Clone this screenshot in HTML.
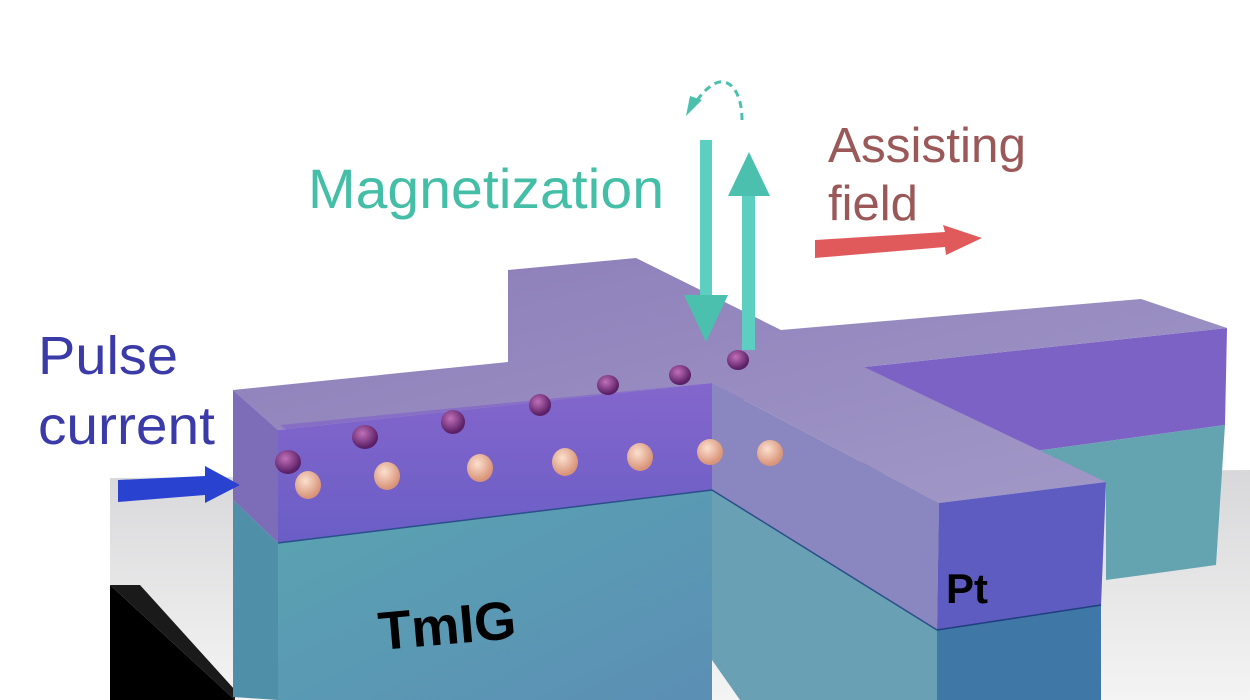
<!DOCTYPE html>
<html><head><meta charset="utf-8"><style>
html,body{margin:0;padding:0;background:#fff;}
svg{display:block;}
text{font-family:"Liberation Sans",sans-serif;}
</style></head><body>
<svg width="1250" height="700" viewBox="0 0 1250 700" xmlns="http://www.w3.org/2000/svg">
<defs>
<linearGradient id="floor" x1="0" y1="0" x2="0" y2="1"><stop offset="0" stop-color="#d8d8da"/><stop offset="1" stop-color="#f4f4f4"/></linearGradient>
<linearGradient id="teal" x1="0" y1="0" x2="1" y2="1"><stop offset="0" stop-color="#5aa4b2"/><stop offset="1" stop-color="#5b8fb4"/></linearGradient>
<linearGradient id="ptf" x1="0" y1="0" x2="0" y2="1"><stop offset="0" stop-color="#8466cc"/><stop offset="1" stop-color="#6a5ec6"/></linearGradient>
<linearGradient id="top" x1="0" y1="0" x2="1" y2="1"><stop offset="0" stop-color="#8c7cb8"/><stop offset="1" stop-color="#a29ac8"/></linearGradient>
<radialGradient id="peach" cx="0.4" cy="0.35" r="0.6"><stop offset="0" stop-color="#fbe0cf"/><stop offset="1" stop-color="#d9957a"/></radialGradient>
<radialGradient id="plum" cx="0.4" cy="0.35" r="0.6"><stop offset="0" stop-color="#c070b8"/><stop offset="1" stop-color="#5a1f66"/></radialGradient>
</defs>
<rect width="1250" height="700" fill="#fff"/>
<polygon points="110,478 1250,470 1250,700 235,700 110,585" fill="url(#floor)"/>
<polygon points="110,585 235,700 110,700" fill="#000"/>
<polygon points="110,585 140,585 235,690 235,700" fill="#1a1a1a"/>
<polygon points="864,367 1227,328 1225,425 1043,450 861,472" fill="#7d62c6"/>
<polygon points="861,472 1043,450 1225,425 1216,565 1106,580 1106,482" fill="#64a3b0"/>
<polygon points="508,270 651,347 651,385 508,362" fill="#6e5c9f"/>
<polygon points="233,390 508,362 508,270 636,258 781,330 1141,299 1227,328 864,367 1106,482 939,503 712,383 278,430" fill="url(#top)"/>
<polygon points="280,425 712,383 745,400 300,440" fill="#7a55cc" opacity="0.5"/>
<polygon points="233,390 278,430 278,543 233,500" fill="#7d6db8"/>
<polygon points="233,500 278,543 278,700 233,697" fill="#4f8fa8"/>
<polygon points="278,430 712,383 712,490 278,543" fill="url(#ptf)"/>
<polygon points="278,543 712,490 712,700 278,700" fill="url(#teal)"/>
<line x1="278" y1="543" x2="712" y2="490" stroke="#2a4f8a" stroke-width="1.5"/>
<polygon points="712,383 939,503 937,630 712,490" fill="#8a86c0"/>
<polygon points="712,490 937,630 937,700 740,700 712,660" fill="#6aa0b4"/>
<polygon points="939,503 1106,482 1101,605 937,630" fill="#5e5cc0"/>
<polygon points="937,630 1101,605 1101,700 937,700" fill="#3f78a6"/>
<line x1="712" y1="490" x2="937" y2="630" stroke="#2a4f8a" stroke-width="1.5"/>
<line x1="937" y1="630" x2="1101" y2="605" stroke="#1f3f80" stroke-width="1.5"/>
<g fill="url(#plum)">
<ellipse cx="288" cy="462" rx="13" ry="12"/><ellipse cx="365" cy="437" rx="13" ry="12"/><ellipse cx="453" cy="422" rx="12" ry="12"/><ellipse cx="540" cy="405" rx="11" ry="11"/><ellipse cx="608" cy="385" rx="11" ry="10"/><ellipse cx="680" cy="375" rx="11" ry="10"/><ellipse cx="738" cy="360" rx="11" ry="10"/>
</g>
<g fill="url(#peach)">
<ellipse cx="308" cy="485" rx="13" ry="14"/><ellipse cx="387" cy="476" rx="13" ry="14"/><ellipse cx="480" cy="468" rx="13" ry="14"/><ellipse cx="565" cy="462" rx="13" ry="14"/><ellipse cx="640" cy="457" rx="13" ry="14"/><ellipse cx="710" cy="452" rx="13" ry="13"/><ellipse cx="770" cy="453" rx="13" ry="13"/>
</g>
<rect x="700" y="140" width="12" height="158" fill="#5ccfc0"/>
<polygon points="684,295 728,295 706,342" fill="#4cc0ae"/>
<rect x="742" y="195" width="13" height="155" fill="#5ccfc0"/>
<polygon points="728,196 770,196 749,152" fill="#4cc0ae"/>
<path d="M742,120 C742,90 728,76 714,84 C704,90 698,98 694,106" fill="none" stroke="#4cc0ae" stroke-width="3" stroke-dasharray="7,5"/>
<polygon points="686,116 702,100 690,96" fill="#4cc0ae"/>
<polygon points="815,240 945,232 943,225 982,238 946,255 945,247 815,258" fill="#e05a5c"/>
<polygon points="118,480 205,476 205,466 240,485 205,503 205,495 118,502" fill="#2a42d0"/>
<text x="308" y="208" font-size="56" fill="#44bea6" textLength="356" lengthAdjust="spacingAndGlyphs">Magnetization</text>
<text x="828" y="162" font-size="49" fill="#9a5858" textLength="198" lengthAdjust="spacingAndGlyphs">Assisting</text>
<text x="828" y="220" font-size="49" fill="#9a5858">field</text>
<text x="38" y="374" font-size="54" fill="#3a3aa8" textLength="140" lengthAdjust="spacingAndGlyphs">Pulse</text>
<text x="38" y="444" font-size="54" fill="#3a3aa8" textLength="177" lengthAdjust="spacingAndGlyphs">current</text>
<text x="380" y="650" font-size="54" font-weight="bold" fill="#000" transform="rotate(-5 380 650)">TmIG</text>
<text x="946" y="603" font-size="42" font-weight="bold" fill="#000">Pt</text>
</svg>
</body></html>
